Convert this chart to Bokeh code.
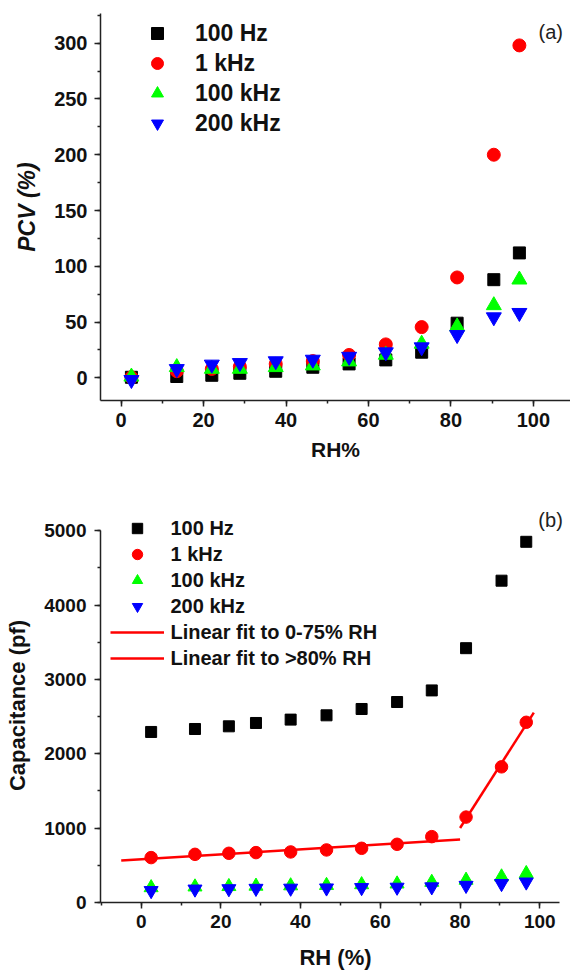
import numpy as np
from bokeh.plotting import figure
from bokeh.layouts import column
from bokeh.models import Legend, LegendItem, Label, SingleIntervalTicker, Range1d
from bokeh.embed import file_html
from bokeh.resources import INLINE

# ---------------- data ----------------
rh = [2.5, 13.5, 22.0, 28.8, 37.5, 46.5, 55.3, 64.2, 72.9, 81.5, 90.4, 96.6]

pcv_100hz = [0.5, 1.2, 2.3, 4.1, 5.9, 9.5, 12.5, 16.1, 23.0, 49.0, 88.0, 112.0]
pcv_1khz = [0.5, 6.0, 8.0, 10.0, 12.5, 15.0, 20.5, 30.0, 45.5, 90.0, 200.0, 298.0]
pcv_100khz = [1.0, 9.5, 8.0, 8.0, 9.5, 11.0, 14.6, 20.6, 30.5, 46.0, 65.0, 88.0]
pcv_200khz = [-1.8, 8.0, 12.0, 13.4, 15.0, 16.4, 19.0, 23.0, 27.5, 38.5, 54.4, 58.3]

cap_100hz = [2294, 2334, 2370, 2415, 2460, 2518, 2603, 2697, 2853, 3421, 4329, 4852]
cap_1khz = [604, 648, 662, 671, 680, 707, 729, 783, 886, 1149, 1825, 2424]
cap_100khz = [200, 210, 215, 220, 225, 230, 240, 250, 272, 300, 345, 390]
cap_200khz = [160, 180, 185, 190, 192, 195, 200, 205, 210, 230, 255, 275]

series_labels = ["100 Hz", "1 kHz", "100 kHz", "200 kHz"]
fit_labels = ["Linear fit to 0-75% RH", "Linear fit to >80% RH"]
fit1_span = [-5.0, 80.0]
fit2_span = [80.0, 98.5]

FONT = "Liberation Sans"
BLACK = "#000000"
RED = "#ff0000"
GREEN = "#00ff00"
BLUE = "#0000ff"


def style_axes(p, tick_size, label_size):
    p.xgrid.visible = False
    p.ygrid.visible = False
    p.outline_line_color = None
    p.background_fill_color = "white"
    p.border_fill_color = "white"
    for ax in (p.xaxis[0], p.yaxis[0]):
        ax.axis_line_width = 1.5
        ax.axis_line_color = "#222222"
        ax.major_tick_line_width = 1.5
        ax.minor_tick_line_width = 1.5
        ax.major_tick_line_color = "#222222"
        ax.minor_tick_line_color = "#222222"
        ax.major_tick_in = 0
        ax.major_tick_out = 6
        ax.minor_tick_in = 0
        ax.minor_tick_out = 3
        ax.major_label_text_font = FONT
        ax.major_label_text_font_style = "bold"
        ax.major_label_text_font_size = tick_size
        ax.major_label_text_color = "#111111"
        ax.axis_label_text_font = FONT
        ax.axis_label_text_font_style = "bold"
        ax.axis_label_text_font_size = label_size
        ax.axis_label_text_color = "#111111"


# ---------------- panel (a) ----------------
pa = figure(width=570, height=480, output_backend="svg", toolbar_location=None,
            x_range=Range1d(-5, 109.0), y_range=Range1d(-20.3, 326.6),
            min_border_left=93, min_border_right=0, min_border_top=13, min_border_bottom=80)
style_axes(pa, "20px", "21px")
pa.xaxis.ticker = SingleIntervalTicker(interval=20, num_minor_ticks=2)
pa.yaxis.ticker = SingleIntervalTicker(interval=50, num_minor_ticks=2)
pa.xaxis.axis_label = "RH%"
pa.yaxis.axis_label = "PCV (%)"
pa.yaxis.axis_label_text_font_style = "bold italic"
pa.yaxis.axis_label_text_font_size = "23px"
pa.xaxis.major_label_standoff = 6
pa.xaxis.axis_label_standoff = 8
pa.yaxis.major_label_standoff = 7
pa.yaxis.axis_label_standoff = 11

ra1 = pa.scatter(rh, pcv_100hz, marker="square", size=12, color=BLACK)
ra2 = pa.scatter(rh, pcv_1khz, marker="circle", size=13, color=RED)
ra3 = pa.scatter(rh, pcv_100khz, marker="triangle", size=15, color=GREEN)
ra4 = pa.scatter(rh, pcv_200khz, marker="inverted_triangle", size=15, color=BLUE)

leg_a = Legend(items=[LegendItem(label=l, renderers=[r]) for l, r in
                      zip(series_labels, [ra1, ra2, ra3, ra4])],
               location=(37, 261.7), glyph_width=40, glyph_height=30, label_height=30,
               label_standoff=18, spacing=0, padding=0, margin=0,
               border_line_alpha=0, background_fill_alpha=0,
               label_text_font=FONT, label_text_font_style="bold",
               label_text_font_size="23px", label_text_color="#111111")
pa.add_layout(leg_a)
pa.add_layout(Label(x=104.2, y=310, text="(a)", text_align="center", text_baseline="middle",
                    text_font=FONT, text_font_size="20px", text_color="#222222"))

# ---------------- panel (b) ----------------
pb = figure(width=570, height=492, output_backend="svg", toolbar_location=None,
            x_range=Range1d(-10.2, 107.7), y_range=Range1d(0, 5300),
            min_border_left=100, min_border_right=0, min_border_top=28, min_border_bottom=69)
style_axes(pb, "19px", "22px")
pb.xaxis.ticker = SingleIntervalTicker(interval=20, num_minor_ticks=2)
pb.yaxis.ticker = SingleIntervalTicker(interval=1000, num_minor_ticks=2)
pb.yaxis.bounds = (0, 5000)
pb.xaxis.bounds = (-10.2, 105)
pb.xaxis.axis_label = "RH (%)"
pb.yaxis.axis_label = "Capacitance (pf)"
pb.xaxis.major_label_standoff = 6
pb.xaxis.axis_label_standoff = 14
pb.yaxis.major_label_standoff = 8
pb.yaxis.axis_label_standoff = 11

rh_arr = np.array(rh)
c1k = np.array(cap_1khz)
m1 = rh_arr < 75
m2 = rh_arr > 80
k1, b1 = np.polyfit(rh_arr[m1], c1k[m1], 1)
k2, b2 = np.polyfit(rh_arr[m2], c1k[m2], 1)
fx1 = np.array(fit1_span)
fx2 = np.array(fit2_span)
lf1 = pb.line(fx1, k1 * fx1 + b1, line_color=RED, line_width=2.5)
lf2 = pb.line(fx2, k2 * fx2 + b2, line_color=RED, line_width=2.5)

rb1 = pb.scatter(rh, cap_100hz, marker="square", size=11, color=BLACK)
rb2 = pb.scatter(rh, cap_1khz, marker="circle", size=12.5, color=RED)
rb3 = pb.scatter(rh, cap_100khz, marker="triangle", size=14, color=GREEN)
rb4 = pb.scatter(rh, cap_200khz, marker="inverted_triangle", size=14, color=BLUE)

leg_b = Legend(items=[LegendItem(label=l, renderers=[r]) for l, r in
                      zip(series_labels + fit_labels, [rb1, rb2, rb3, rb4, lf1, lf2])],
               location=(9.5, 231), glyph_width=54, glyph_height=26, label_height=26,
               label_standoff=7, spacing=0, padding=0, margin=0,
               border_line_alpha=0, background_fill_alpha=0,
               label_text_font=FONT, label_text_font_style="bold",
               label_text_font_size="20px", label_text_color="#111111")
pb.add_layout(leg_b)
pb.add_layout(Label(x=102.7, y=5143, text="(b)", text_align="center", text_baseline="middle",
                    text_font=FONT, text_font_size="20px", text_color="#222222"))

layout = column(pa, pb, spacing=0)
open("out.html", "w").write(file_html(layout, INLINE))
